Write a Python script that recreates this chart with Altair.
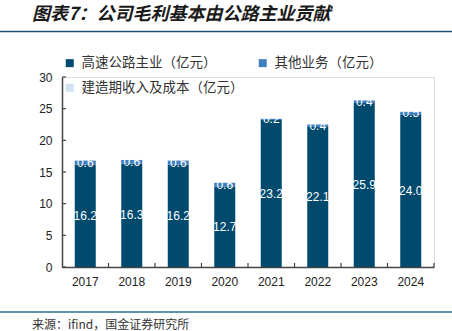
import altair as alt
import pandas as pd

years = ["2017", "2018", "2019", "2020", "2021", "2022", "2023", "2024"]
series_names = ["高速公路主业（亿元）", "其他业务（亿元）", "建造期收入及成本（亿元）"]
main_biz = [16.2, 16.3, 16.2, 12.7, 23.2, 22.1, 25.9, 24.0]
other_biz = [0.6, 0.6, 0.6, 0.6, 0.2, 0.4, 0.4, 0.5]
construction = [0, 0, 0, 0, 0, 0, 0, 0]
colors = ["#004a6e", "#3f7fbf", "#d3e3f3"]
y_ticks = [0, 5, 10, 15, 20, 25, 30]
title_text = "图表7：公司毛利基本由公路主业贡献"
source_text = "来源：ifind，国金证券研究所"

rows = []
for i, y in enumerate(years):
    for k, (name, vals) in enumerate(zip(series_names, [main_biz, other_biz, construction])):
        rows.append({"year": y, "series": name, "value": vals[i], "order": k})
df = pd.DataFrame(rows)

W, H = 372, 190
CJK = "Noto Sans CJK SC"
LAT = "Liberation Sans"

x_axis = alt.Axis(title=None, labelAngle=0, ticks=False, tickSize=0, labelPadding=9,
                  labelFont=LAT, labelFontSize=12, labelColor="#222",
                  domainColor="#444", domainWidth=1.5)
y_axis = alt.Axis(title=None, values=y_ticks, ticks=False, tickSize=0, labelPadding=10,
                  grid=False, labelFont=LAT, labelFontSize=12, labelColor="#222",
                  domainColor="#444", domainWidth=1.5)
x_scale = alt.Scale(paddingInner=0, paddingOuter=0)
y_scale = alt.Scale(domain=[0, 30], nice=False)

base = alt.Chart(df)
bars = base.mark_bar(size=21).encode(
    x=alt.X("year:N", sort=years, scale=x_scale, axis=x_axis),
    y=alt.Y("value:Q", stack="zero", scale=y_scale, axis=y_axis),
    color=alt.Color("series:N", sort=series_names,
                    scale=alt.Scale(domain=series_names, range=colors),
                    legend=alt.Legend(title=None, orient="none", legendX=1, legendY=-21,
                                      columns=2, direction="horizontal",
                                      columnPadding=12, rowPadding=10,
                                      symbolType="square", symbolSize=64, symbolStrokeWidth=0,
                                      labelFont=CJK, labelFontSize=13.5, labelColor="#333",
                                      labelLimit=400, labelOffset=5)),
    order=alt.Order("order:Q"),
)

labels = base.transform_filter("datum.value > 0").transform_stack(
    stack="value", groupby=["year"], as_=["v0", "v1"], sort=[alt.SortField("order", "ascending")]
).transform_calculate(mid="(datum.v0 + datum.v1) / 2").mark_text(
    color="white", font=LAT, fontSize=12, baseline="middle", align="center"
).encode(
    x=alt.X("year:N", sort=years, scale=x_scale, axis=x_axis),
    y=alt.Y("mid:Q", scale=y_scale, axis=y_axis),
    text=alt.Text("value:Q", format=".1f"),
)

ytick_df = pd.DataFrame({"v": y_ticks})
yticks = alt.Chart(ytick_df).mark_rule(color="#444", strokeWidth=1.2).encode(
    y=alt.Y("v:Q", scale=y_scale, axis=y_axis), x=alt.value(0), x2=alt.value(4))

xb_df = pd.DataFrame({"year": years[1:]})
xticks = alt.Chart(xb_df).mark_rule(color="#444", strokeWidth=1.2).encode(
    x=alt.X("year:N", sort=years, bandPosition=0, scale=x_scale, axis=x_axis),
    y=alt.value(H), y2=alt.value(H - 4))
xend = alt.Chart(pd.DataFrame({"year": years[-1:]})).mark_rule(color="#444", strokeWidth=1.2).encode(
    x=alt.X("year:N", sort=years, bandPosition=1, scale=x_scale, axis=x_axis),
    y=alt.value(H), y2=alt.value(H - 4))

title = alt.Chart(pd.DataFrame({"t": [title_text]})).mark_text(
    font=CJK, fontSize=18, fontWeight="bold", fontStyle="italic", color="#1a1a1a",
    align="left", baseline="middle"
).encode(text="t:N", x=alt.value(-30), y=alt.value(-62))

top_line = alt.Chart(pd.DataFrame({"a": [0]})).mark_rule(color="#1f4e79", strokeWidth=1.5).encode(
    x=alt.value(-62), x2=alt.value(W + 18), y=alt.value(-45.5))
bottom_line = alt.Chart(pd.DataFrame({"a": [0]})).mark_rule(color="#2e6f8e", strokeWidth=1.5).encode(
    x=alt.value(-62), x2=alt.value(W + 18), y=alt.value(235))

source = alt.Chart(pd.DataFrame({"t": [source_text]})).mark_text(
    font=CJK, fontSize=12, color="#333", align="left", baseline="middle"
).encode(text="t:N", x=alt.value(-30), y=alt.value(248))

chart = alt.layer(bars, labels, yticks, xticks, xend, title, top_line, bottom_line, source).properties(
    width=W, height=H,
    autosize=alt.AutoSizeParams(type="none"),
    padding={"left": 62, "top": 77, "right": 18, "bottom": 64},
).configure_view(stroke=None).configure(background="white")

chart.save("out.html", embed_options={"renderer": "svg", "actions": False})
